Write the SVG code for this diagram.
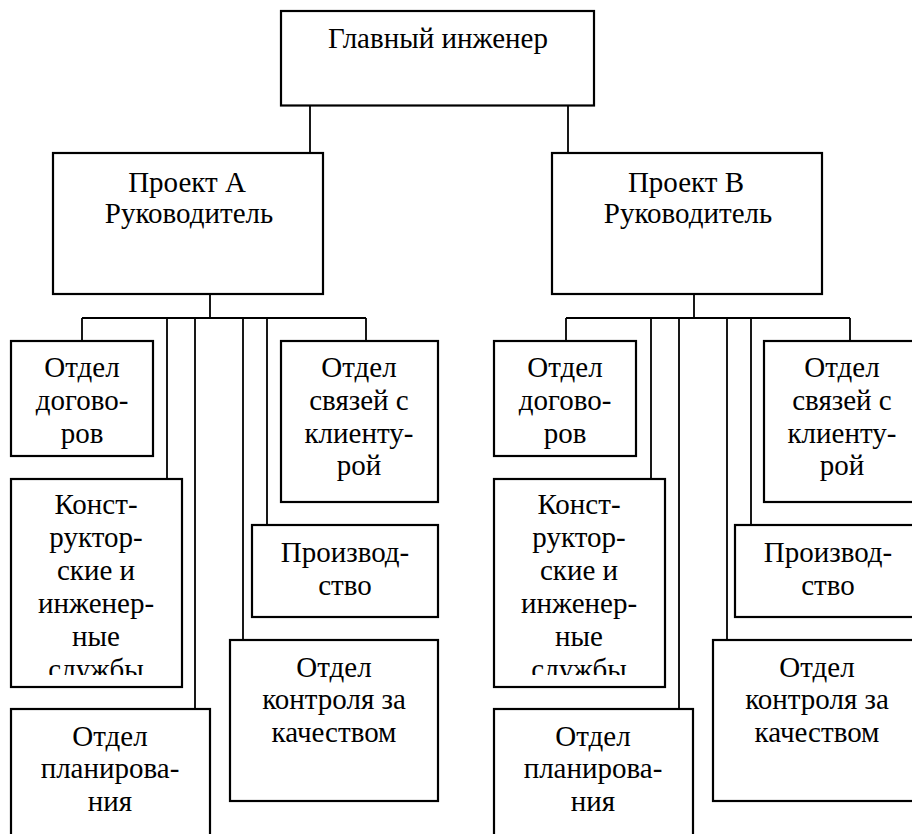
<svg xmlns="http://www.w3.org/2000/svg" width="912" height="834" viewBox="0 0 912 834" font-family="Liberation Serif, Times New Roman, DejaVu Serif, serif" font-size="29">
  <style>
    .box { fill: #ffffff; stroke: #000000; stroke-width: 2.2; }
    .link { fill: none; stroke: #000000; stroke-width: 1.8; }
    text { fill: #000000; text-anchor: middle; }
  </style>
  <defs>
    <clipPath id="clip-kb-a"><rect x="12" y="480" width="169" height="195"/></clipPath>
    <clipPath id="clip-kb-b"><rect x="495" y="480" width="169" height="195"/></clipPath>
  </defs>
  <rect width="912" height="834" fill="#ffffff"/>

  <!-- connectors -->
  <g id="connectors">
    <path class="link" d="M310,106 V153 M568,106 V153"/>
    <!-- project A branches -->
    <path class="link" d="M210,294 V318 M82,318 H366 M82,318 V341 M167,318 V479 M195,318 V709 M243,318 V640 M267,318 V525 M366,318 V341"/>
    <!-- project B branches -->
    <path class="link" d="M694,294 V318 M566,318 H850 M566,318 V341 M651,318 V479 M679,318 V709 M727,318 V640 M751,318 V525 M850,318 V341"/>
  </g>

  <g id="chief">
    <rect class="box" x="281" y="11" width="313" height="94.5"/>
    <text x="438" y="48">Главный инженер</text>
  </g>

  <g id="project-a">
    <rect class="box" x="53" y="153" width="270" height="141"/>
    <text x="187" y="192">Проект А</text>
    <text x="189" y="223">Руководитель</text>
  </g>
  <g id="project-b">
    <rect class="box" x="552" y="153" width="270" height="141"/>
    <text x="686" y="192">Проект В</text>
    <text x="688" y="223">Руководитель</text>
  </g>

  <!-- project A departments -->
  <g id="a-contracts">
    <rect class="box" x="11" y="341" width="142" height="115"/>
    <text x="82" y="377">Отдел</text>
    <text x="82" y="410">догово-</text>
    <text x="82" y="443">ров</text>
  </g>
  <g id="a-design">
    <rect class="box" x="11" y="479" width="171" height="208"/>
    <g clip-path="url(#clip-kb-a)">
      <text x="96" y="514">Конст-</text>
      <text x="96" y="547">руктор-</text>
      <text x="96" y="580">ские и</text>
      <text x="96" y="613">инженер-</text>
      <text x="96" y="646">ные</text>
      <text x="96" y="679">службы</text>
    </g>
  </g>
  <g id="a-planning">
    <rect class="box" x="11" y="709" width="199" height="140"/>
    <text x="110" y="746">Отдел</text>
    <text x="110" y="778">планирова-</text>
    <text x="110" y="811">ния</text>
  </g>
  <g id="a-clients">
    <rect class="box" x="281" y="341" width="157" height="161"/>
    <text x="359" y="377">Отдел</text>
    <text x="359" y="410">связей с</text>
    <text x="359" y="443">клиенту-</text>
    <text x="359" y="475">рой</text>
  </g>
  <g id="a-production">
    <rect class="box" x="252" y="525" width="186" height="92"/>
    <text x="345" y="562">Производ-</text>
    <text x="345" y="595">ство</text>
  </g>
  <g id="a-quality">
    <rect class="box" x="230" y="640" width="208" height="161"/>
    <text x="334" y="677">Отдел</text>
    <text x="334" y="709">контроля за</text>
    <text x="334" y="742">качеством</text>
  </g>

  <!-- project B departments -->
  <g id="b-contracts">
    <rect class="box" x="494" y="341" width="142" height="115"/>
    <text x="565" y="377">Отдел</text>
    <text x="565" y="410">догово-</text>
    <text x="565" y="443">ров</text>
  </g>
  <g id="b-design">
    <rect class="box" x="494" y="479" width="171" height="208"/>
    <g clip-path="url(#clip-kb-b)">
      <text x="579" y="514">Конст-</text>
      <text x="579" y="547">руктор-</text>
      <text x="579" y="580">ские и</text>
      <text x="579" y="613">инженер-</text>
      <text x="579" y="646">ные</text>
      <text x="579" y="679">службы</text>
    </g>
  </g>
  <g id="b-planning">
    <rect class="box" x="494" y="709" width="199" height="140"/>
    <text x="593" y="746">Отдел</text>
    <text x="593" y="778">планирова-</text>
    <text x="593" y="811">ния</text>
  </g>
  <g id="b-clients">
    <rect class="box" x="764" y="341" width="157" height="161"/>
    <text x="842" y="377">Отдел</text>
    <text x="842" y="410">связей с</text>
    <text x="842" y="443">клиенту-</text>
    <text x="842" y="475">рой</text>
  </g>
  <g id="b-production">
    <rect class="box" x="735" y="525" width="186" height="92"/>
    <text x="828" y="562">Производ-</text>
    <text x="828" y="595">ство</text>
  </g>
  <g id="b-quality">
    <rect class="box" x="713" y="640" width="208" height="161"/>
    <text x="817" y="677">Отдел</text>
    <text x="817" y="709">контроля за</text>
    <text x="817" y="742">качеством</text>
  </g>
</svg>
